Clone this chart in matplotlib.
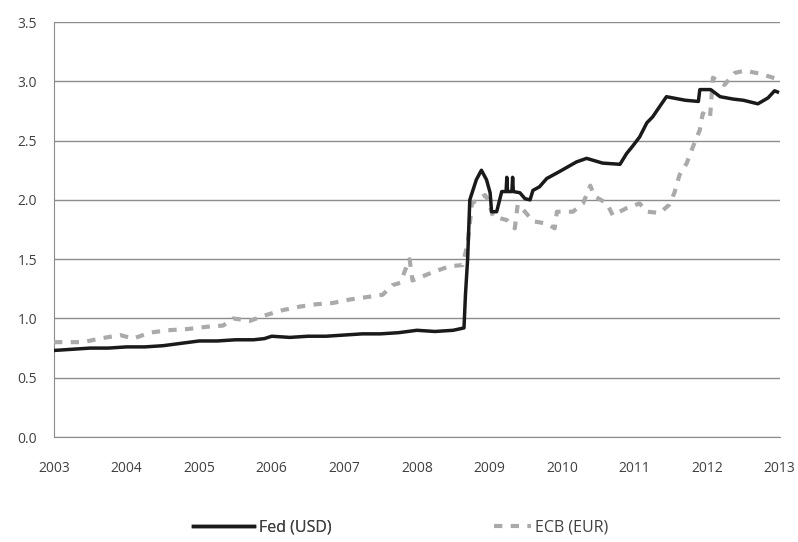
#!/usr/bin/env python3
import matplotlib.pyplot as plt

plt.rcParams['font.family'] = ['Open Sans', 'DejaVu Sans']

# Fed (USD) series (fractional years)
fed_t = [2003.00, 2003.25, 2003.50, 2003.75, 2004.00, 2004.25, 2004.50, 2004.75,
         2005.00, 2005.25, 2005.50, 2005.75, 2005.90, 2006.00, 2006.25, 2006.50,
         2006.75, 2007.00, 2007.25, 2007.50, 2007.75, 2008.00, 2008.25, 2008.50,
         2008.65, 2008.67, 2008.70, 2008.73, 2008.82, 2008.89, 2008.96, 2009.01,
         2009.03, 2009.10, 2009.17, 2009.23, 2009.24, 2009.25, 2009.31, 2009.32,
         2009.33, 2009.42, 2009.49, 2009.56, 2009.60, 2009.69, 2009.79, 2009.97,
         2010.20, 2010.34, 2010.56, 2010.80, 2010.89, 2010.97, 2011.07, 2011.17,
         2011.25, 2011.35, 2011.44, 2011.70, 2011.88, 2011.90, 2012.05, 2012.18,
         2012.36, 2012.50, 2012.70, 2012.84, 2012.93, 2012.97]
fed_v = [0.73, 0.74, 0.75, 0.75, 0.76, 0.76, 0.77, 0.79,
         0.81, 0.81, 0.82, 0.82, 0.83, 0.85, 0.84, 0.85,
         0.85, 0.86, 0.87, 0.87, 0.88, 0.90, 0.89, 0.90,
         0.92, 1.20, 1.50, 2.00, 2.17, 2.25, 2.17, 2.06,
         1.90, 1.90, 2.07, 2.07, 2.19, 2.07, 2.07, 2.19,
         2.07, 2.06, 2.01, 2.00, 2.08, 2.11, 2.18, 2.24,
         2.32, 2.35, 2.31, 2.30, 2.39, 2.45, 2.53, 2.65,
         2.70, 2.79, 2.87, 2.84, 2.83, 2.93, 2.93, 2.87,
         2.85, 2.84, 2.81, 2.86, 2.92, 2.91]

# ECB (EUR) series
ecb_t = [2003.00, 2003.40, 2003.63, 2003.91, 2004.09, 2004.32, 2004.56, 2004.83,
         2005.11, 2005.33, 2005.47, 2005.70, 2005.93, 2006.15, 2006.39, 2006.62,
         2006.84, 2007.08, 2007.31, 2007.53, 2007.66, 2007.77, 2007.90, 2007.94,
         2008.22, 2008.45, 2008.63, 2008.70, 2008.76, 2008.83, 2008.94, 2008.98,
         2009.05, 2009.24, 2009.35, 2009.39, 2009.49, 2009.60, 2009.79, 2009.90,
         2009.93, 2010.15, 2010.29, 2010.39, 2010.45, 2010.62, 2010.70, 2010.89,
         2011.07, 2011.17, 2011.35, 2011.48, 2011.55, 2011.62, 2011.72, 2011.80,
         2011.90, 2011.94, 2012.04, 2012.06, 2012.08, 2012.24, 2012.38, 2012.52,
         2012.68, 2012.86, 2012.96]
ecb_v = [0.80, 0.80, 0.83, 0.86, 0.83, 0.88, 0.90, 0.91,
         0.93, 0.94, 1.00, 0.98, 1.03, 1.07, 1.10, 1.12,
         1.13, 1.16, 1.18, 1.20, 1.28, 1.30, 1.50, 1.32,
         1.39, 1.44, 1.45, 1.63, 1.97, 2.00, 2.04, 2.00,
         1.86, 1.83, 1.76, 1.96, 1.90, 1.82, 1.80, 1.76,
         1.90, 1.90, 1.97, 2.12, 2.03, 1.97, 1.87, 1.93,
         1.97, 1.90, 1.89, 1.96, 2.06, 2.21, 2.31, 2.44,
         2.59, 2.73, 2.69, 2.86, 3.03, 2.97, 3.07, 3.09,
         3.07, 3.04, 3.02]

years = list(range(2003, 2014))
yticks = [0.0, 0.5, 1.0, 1.5, 2.0, 2.5, 3.0, 3.5]

fig = plt.figure(figsize=(7.98, 5.42), dpi=100)
ax = fig.add_axes([0.0677, 0.1937, 0.9093, 0.7657])

ecb_line, = ax.plot(ecb_t, ecb_v, color='#aaaaaa', lw=3, linestyle=(0, (2, 2)),
                    label='ECB (EUR)', zorder=3)
fed_line, = ax.plot(fed_t, fed_v, color='#1a1a1a', lw=2.5, label='Fed (USD)', zorder=4)

ax.set_xlim(2003, 2013)
ax.set_ylim(0, 3.5)
ax.set_xticks(years)
ax.set_yticks(yticks)
ax.set_yticklabels(['%.1f' % v for v in yticks])
ax.grid(axis='y', color='#8c8c8c', lw=1)
ax.set_axisbelow(True)
for s in ['top', 'right']:
    ax.spines[s].set_visible(False)
for s in ['left', 'bottom']:
    ax.spines[s].set_color('#8c8c8c')
ax.tick_params(length=0, labelsize=10, labelcolor='#404040')
ax.tick_params(axis='x', pad=17)
ax.tick_params(axis='y', pad=12)

# two legend entries, placed separately like the original
leg_kw = dict(loc='center left', frameon=False, fontsize=11.5, borderpad=0,
              borderaxespad=0, handletextpad=0.3, labelcolor='#404040')
leg1 = fig.legend([fed_line], ['Fed (USD)'], bbox_to_anchor=(0.242, 0.026),
                  handlelength=3.8, **leg_kw)
fig.legend([ecb_line], ['ECB (EUR)'], bbox_to_anchor=(0.619, 0.026),
           handlelength=2.3, **leg_kw)
fig.add_artist(leg1)

fig.savefig('out.png', dpi=100)
